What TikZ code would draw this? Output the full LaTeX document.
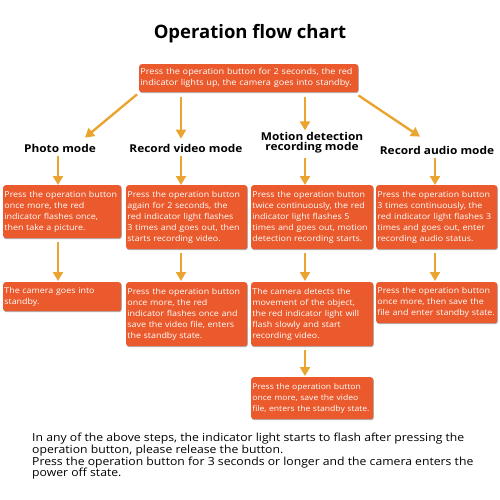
\documentclass[tikz,border=0pt]{standalone}
\usepackage{fontspec}
\setmainfont{Open Sans}
\newfontfamily\wfont[FakeStretch=1.1]{Open Sans}
\usetikzlibrary{arrows.meta,shadows}
\definecolor{boxc}{HTML}{EA5A2C}
\definecolor{arrc}{HTML}{EAA531}
\begin{document}
\begin{tikzpicture}[x=1pt,y=-1pt,
  box/.style={fill=boxc, text=white, rounded corners=2.5pt, anchor=north west,
    align=left, font=\wfont\fontsize{8.1}{11}\selectfont, inner xsep=1.2pt, inner ysep=2pt,
    general shadow={fill=black!30, shadow xshift=0.6pt, shadow yshift=-0.9pt}},
  arr/.style={draw=arrc, line width=2.4pt, -{Triangle[width=10pt,length=9pt]}},
  mode/.style={font=\wfont\bfseries\fontsize{10.8}{11}\selectfont, align=center, inner sep=1pt},
]
\useasboundingbox (0,0) rectangle (500,500);
\fill[white] (0,0) rectangle (500,500);

\node[font=\bfseries\fontsize{18.5}{20}\selectfont] (title) at (250,34) {Operation flow chart};

\node[box, minimum width=219, minimum height=28, text width=216.6, font=\wfont\fontsize{8.3}{11}\selectfont] (t) at (139,64)
  {Press the operation button for 2 seconds, the red\\indicator lights up, the camera goes into standby.};

\node[mode] (photo) at (60,148) {Photo mode};
\node[mode] (video) at (186,148) {Record video mode};
\node[mode] (motion) at (312,143) {Motion detection\\[-1pt]recording mode};
\node[mode] (audio) at (437,150) {Record audio mode};

\coordinate (c1) at (58,0);
\coordinate (c2) at (181,0);
\coordinate (c3) at (305,0);
\coordinate (c4) at (435,0);

% row 1
\node[box, minimum width=118, minimum height=53, text width=115.6] (a1) at (3,185)
  {Press the operation button\\once more, the red\\indicator flashes once,\\then take a picture.};
\node[box, minimum width=121, minimum height=64, text width=118.6] (a2) at (126,185)
  {Press the operation button\\again for 2 seconds, the\\red indicator light flashes\\3 times and goes out, then\\starts recording video.};
\node[box, minimum width=122, minimum height=64, text width=119.6] (a3) at (251,185)
  {Press the operation button\\twice continuously, the red\\indicator light flashes 5\\times and goes out, motion\\detection recording starts.};
\node[box, minimum width=121, minimum height=64, text width=118.6] (a4) at (376,185)
  {Press the operation button\\3 times continuously, the\\red indicator light flashes 3\\times and goes out, enter\\recording audio status.};

% row 2
\node[box, minimum width=118, minimum height=29, text width=115.6] (b1) at (3,282)
  {The camera goes into\\standby.};
\node[box, minimum width=121, minimum height=64, text width=118.6] (b2) at (126,282)
  {Press the operation button\\once more, the red\\indicator flashes once and\\save the video file, enters\\the standby state.};
\node[box, minimum width=122, minimum height=64, text width=119.6] (b3) at (251,282)
  {The camera detects the\\movement of the object,\\the red indicator light will\\flash slowly and start\\recording video.};
\node[box, minimum width=121, minimum height=41, text width=118.6] (b4) at (376,282)
  {Press the operation button\\once more, then save the\\file and enter standby state.};

% row 3
\node[box, minimum width=122, minimum height=42, text width=119.6, font=\wfont\fontsize{7.8}{11}\selectfont] (d3) at (251,377)
  {Press the operation button\\once more, save the video\\file, enters the standby state.};

% arrows from top box
\draw[arr] ([shift={(-2,2)}]t.south west) -- ([shift={(25,-5)}]photo.north);
\draw[arr] ([yshift=-5pt]t.south -| c2) -- ([yshift=4pt]video.north -| c2);
\draw[arr] ([yshift=-5pt]t.south -| c3) -- ([yshift=1pt]motion.north -| c3);
\draw[arr] ([shift={(0,3)}]t.south east) -- ([shift={(-17,-8)}]audio.north);

% arrows from labels
\draw[arr] ([yshift=-3pt]photo.south -| c1) -- (a1.north -| c1);
\draw[arr] ([yshift=-3pt]video.south -| c2) -- (a2.north -| c2);
\draw[arr] ([yshift=-3pt]motion.south -| c3) -- (a3.north -| c3);
\draw[arr] ([yshift=-3pt]audio.south -| c4) -- (a4.north -| c4);

% row arrows
\draw[arr] ([yshift=-4pt]a1.south -| c1) -- ([yshift=1pt]b1.north -| c1);
\draw[arr] ([yshift=-4pt]a2.south -| c2) -- ([yshift=1pt]b2.north -| c2);
\draw[arr] ([yshift=-4pt]a3.south -| c3) -- ([yshift=1pt]b3.north -| c3);
\draw[arr] ([yshift=-4pt]a4.south -| c4) -- ([yshift=1pt]b4.north -| c4);
\draw[arr] ([yshift=-4pt]b3.south -| c3) -- ([yshift=1pt]d3.north -| c3);

\node[anchor=north west, align=left, inner sep=0pt, font=\wfont\fontsize{11.1}{11.7}\selectfont] (note) at (32,433)
  {In any of the above steps, the indicator light starts to flash after pressing the\\
   operation button, please release the button.\\
   Press the operation button for 3 seconds or longer and the camera enters the\\
   power off state.};
\end{tikzpicture}
\end{document}
